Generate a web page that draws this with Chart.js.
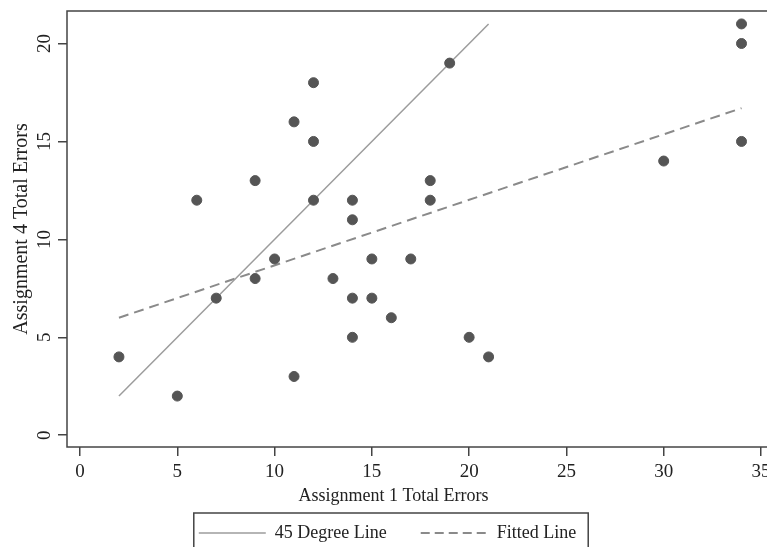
<!DOCTYPE html>
<html lang="en">
  <head>
    <meta charset="UTF-8" />
    <title>Assignment 1 vs Assignment 4 Total Errors</title>
    <script src="https://cdn.jsdelivr.net/npm/chart.js"></script>
    <style>
      body {
        margin: 0;
        padding: 0;
        background: #fff;
        overflow: hidden;
      }
      canvas {
        display: block;
      }
    </style>
  </head>
  <body>
    <canvas id="errChart" width="780" height="552"></canvas>

    <script>
      // students: assignment 1 errors (x) vs assignment 4 errors (y)
      const errA1 = [19, 12, 11, 12, 9, 6, 12, 14, 14, 18, 18, 34, 34, 34, 30,
                     10, 9, 7, 2, 5, 11, 13, 15, 17, 14, 15, 16, 14, 20, 21];
      const errA4 = [19, 18, 16, 15, 13, 12, 12, 12, 11, 13, 12, 21, 20, 15, 14,
                     9, 8, 7, 4, 2, 3, 8, 9, 9, 7, 7, 6, 5, 5, 4];

      // reference lines (end points)
      const diagX = [2, 21];
      const diagY = [2, 21];
      const fitX = [2, 34];
      const fitY = [6.0, 16.7];

      const xTicks = [0, 5, 10, 15, 20, 25, 30, 35];
      const yTicks = [0, 5, 10, 15, 20];

      const serif = "'Liberation Serif', 'Times New Roman', serif";
      const ink = "#222";
      const frameColor = "#444";

      const toPoints = (xs, ys) => xs.map((x, i) => ({ x: x, y: ys[i] }));

      // stata style frame, x title and boxed legend
      const frame = {
        id: "frame",
        beforeDatasetsDraw(chart) {
          const { ctx, chartArea: a } = chart;
          ctx.save();
          ctx.strokeStyle = frameColor;
          ctx.lineWidth = 1.5;
          ctx.strokeRect(a.left, a.top, a.right - a.left, a.bottom - a.top);
          ctx.restore();
        },
        afterDraw(chart) {
          const ctx = chart.ctx;
          const lg = chart.legend;
          ctx.save();
          ctx.fillStyle = ink;
          ctx.font = "18px " + serif;
          ctx.textAlign = "center";
          ctx.textBaseline = "middle";
          ctx.fillText("Assignment 1 Total Errors", (lg.left + lg.right) / 2 + 6, 496);

          const hb = lg.legendHitBoxes;
          if (hb && hb.length) {
            const last = hb[hb.length - 1];
            const l = hb[0].left - 5;
            const r = last.left + last.width + 12;
            ctx.strokeStyle = frameColor;
            ctx.lineWidth = 1.5;
            ctx.strokeRect(l, 513, r - l, 42);
          }
          ctx.restore();
        },
      };

      const ctx = document.getElementById("errChart").getContext("2d");
      new Chart(ctx, {
        type: "scatter",
        data: {
          datasets: [
            {
              label: "Errors",
              data: toPoints(errA1, errA4),
              backgroundColor: "#555",
              borderColor: "#555",
              pointRadius: 5,
              pointHoverRadius: 5,
            },
            {
              label: "45 Degree Line",
              data: toPoints(diagX, diagY),
              showLine: true,
              borderColor: "#9c9c9c",
              borderWidth: 1.5,
              pointRadius: 0,
            },
            {
              label: "Fitted Line",
              data: toPoints(fitX, fitY),
              showLine: true,
              borderColor: "#8a8a8a",
              borderWidth: 2,
              borderDash: [10, 6],
              pointRadius: 0,
            },
          ],
        },
        options: {
          responsive: false,
          animation: false,
          layout: { padding: { top: 11, right: 5, left: 0, bottom: 0 } },
          plugins: {
            tooltip: { enabled: false },
            legend: {
              position: "bottom",
              labels: {
                font: { family: serif, size: 18 },
                color: ink,
                usePointStyle: true,
                pointStyleWidth: 67,
                padding: 34,
                generateLabels: (chart) =>
                  chart.data.datasets.slice(1).map((ds, i) => ({
                    text: ds.label,
                    strokeStyle: ds.borderColor,
                    fillStyle: ds.borderColor,
                    lineWidth: ds.borderWidth,
                    lineDash: ds.borderDash ? [9, 5] : [],
                    pointStyle: "line",
                    fontColor: ink,
                    hidden: false,
                    datasetIndex: i + 1,
                  })),
              },
            },
          },
          scales: {
            x: {
              min: -0.67,
              max: 35.67,
              afterBuildTicks: (s) => {
                s.ticks = xTicks.map((v) => ({ value: v }));
              },
              afterFit: (s) => {
                s.height = 43;
                s.paddingLeft = 0;
                s.paddingRight = 0;
              },
              border: { display: false },
              grid: {
                drawOnChartArea: false,
                drawTicks: true,
                tickLength: 9,
                color: frameColor,
                lineWidth: 1.5,
              },
              ticks: {
                font: { family: serif, size: 19 },
                color: ink,
                padding: 5,
                maxRotation: 0,
                autoSkip: false,
              },
            },
            y: {
              min: -0.6,
              max: 21.66,
              afterBuildTicks: (s) => {
                s.ticks = yTicks.map((v) => ({ value: v }));
              },
              afterFit: (s) => {
                s.width = 67;
                s.paddingTop = 0;
                s.paddingBottom = 0;
              },
              border: { display: false },
              grid: {
                drawOnChartArea: false,
                drawTicks: true,
                tickLength: 9,
                color: frameColor,
                lineWidth: 1.5,
              },
              ticks: {
                font: { family: serif, size: 19 },
                color: ink,
                padding: 3,
                minRotation: 90,
                maxRotation: 90,
                crossAlign: "center",
                autoSkip: false,
              },
              title: {
                display: true,
                text: "Assignment 4 Total Errors",
                font: { family: serif, size: 20 },
                color: ink,
                padding: { top: 10, bottom: 0 },
              },
            },
          },
        },
        plugins: [frame],
      });
    </script>
  </body>
</html>
